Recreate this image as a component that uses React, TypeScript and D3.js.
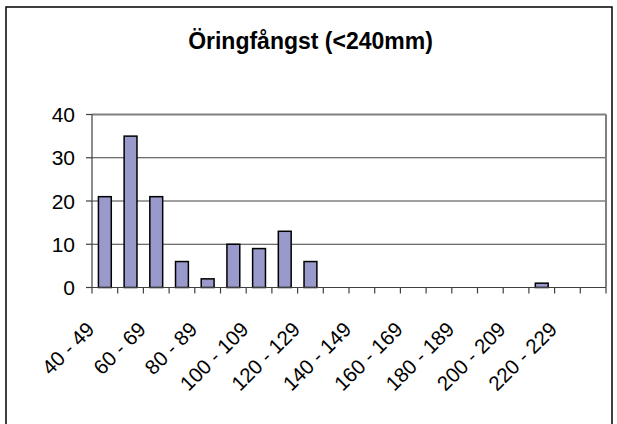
import React from 'react';
import * as d3 from 'd3';

const categories = [
  '40 - 49', '50 - 59', '60 - 69', '70 - 79', '80 - 89',
  '90 - 99', '100 - 109', '110 - 119', '120 - 129', '130 - 139',
  '140 - 149', '150 - 159', '160 - 169', '170 - 179', '180 - 189',
  '190 - 199', '200 - 209', '210 - 219', '220 - 229', '230 - 239',
];
const counts = [21, 35, 21, 6, 2, 10, 9, 13, 6, 0, 0, 0, 0, 0, 0, 0, 0, 1, 0, 0];
const yTicks = [0, 10, 20, 30, 40];
const title = 'Öringfångst (<240mm)';

export default function App() {
  const width = 617;
  const height = 424;
  const MARGIN = { top: 114.5, right: 11, bottom: 136.5, left: 92 };
  const boundsWidth = width - MARGIN.left - MARGIN.right;
  const boundsHeight = height - MARGIN.top - MARGIN.bottom;

  const xScale = d3
    .scaleBand()
    .domain(categories)
    .range([0, boundsWidth])
    .paddingInner(0.5)
    .paddingOuter(0.25);
  const step = boundsWidth / categories.length;
  const yScale = d3.scaleLinear().domain([0, 40]).range([boundsHeight, 0]);

  const font = '"Liberation Sans", Arial, sans-serif';

  return (
    <svg
      width={width}
      height={height}
      style={{ position: 'absolute', left: 0, top: 0, background: '#fff' }}
    >
      <rect x={6} y={7} width={606} height={430} fill="#fff" stroke="#000" strokeWidth={1.5} />
      <text
        x={310.5}
        y={49}
        textAnchor="middle"
        fontFamily={font}
        fontWeight="bold"
        fontSize={23}
      >
        {title}
      </text>
      <g transform={`translate(${MARGIN.left},${MARGIN.top})`}>
        {/* grid */}
        {yTicks.slice(1).map((t) => (
          <line
            key={t}
            x1={0}
            x2={boundsWidth}
            y1={yScale(t)}
            y2={yScale(t)}
            stroke={t === 40 ? '#808080' : '#404040'}
            strokeWidth={t === 40 ? 2 : 1}
          />
        ))}
        <line x1={boundsWidth} x2={boundsWidth} y1={0} y2={boundsHeight} stroke="#808080" strokeWidth={2} />
        {/* bars */}
        {counts.map((v, i) => (
          <rect
            key={i}
            x={xScale(categories[i])}
            y={yScale(v)}
            width={xScale.bandwidth()}
            height={boundsHeight - yScale(v)}
            fill="#9999cc"
            stroke="#000"
            strokeWidth={1.5}
            opacity={v > 0 ? 1 : 0}
          />
        ))}
        {/* y axis */}
        <line x1={0} x2={0} y1={0} y2={boundsHeight} stroke="#404040" strokeWidth={1.2} />
        {yTicks.map((t) => (
          <g key={t}>
            <line x1={-6} x2={0} y1={yScale(t)} y2={yScale(t)} stroke="#404040" strokeWidth={1.2} />
            <text
              x={-17}
              y={yScale(t)}
              textAnchor="end"
              dominantBaseline="central"
              fontFamily={font}
              fontSize={21}
            >
              {t}
            </text>
          </g>
        ))}
        {/* x axis */}
        <line x1={0} x2={boundsWidth} y1={boundsHeight} y2={boundsHeight} stroke="#404040" strokeWidth={1.2} />
        {d3.range(categories.length + 1).map((i) => (
          <line
            key={i}
            x1={i * step}
            x2={i * step}
            y1={boundsHeight}
            y2={boundsHeight + 6}
            stroke="#404040"
            strokeWidth={1.2}
          />
        ))}
        {categories.map((c, i) =>
          i % 2 === 0 ? (
            <text
              key={c}
              transform={`translate(${(xScale(c) ?? 0) + xScale.bandwidth() / 2 - 14.5},${boundsHeight + 38}) rotate(-45)`}
              textAnchor="end"
              dominantBaseline="central"
              fontFamily={font}
              fontSize={20.5}
            >
              {c}
            </text>
          ) : null
        )}
      </g>
    </svg>
  );
}
